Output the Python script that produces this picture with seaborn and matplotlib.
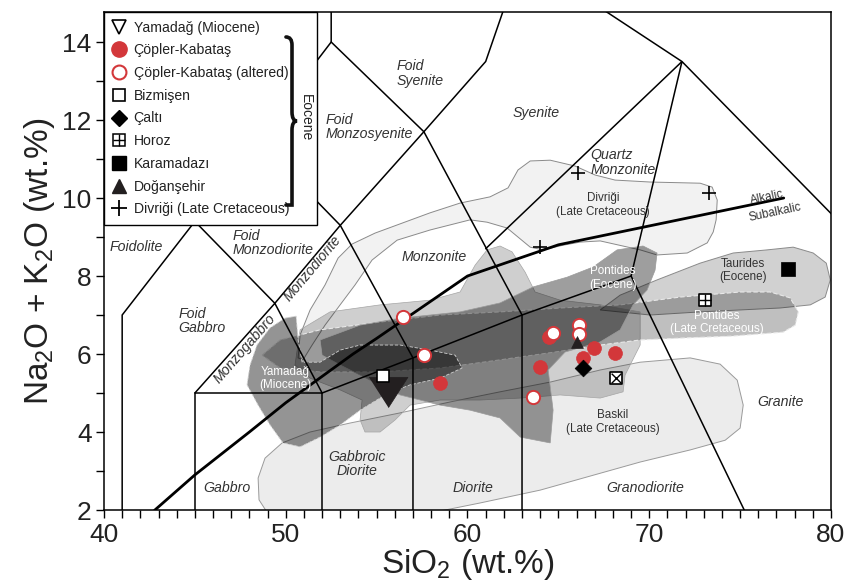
import matplotlib
matplotlib.use('Agg')
import matplotlib.pyplot as plt
import seaborn as sns
from matplotlib.patches import Polygon, Rectangle, PathPatch
from matplotlib.lines import Line2D
from matplotlib.legend_handler import HandlerTuple
from matplotlib.path import Path
from matplotlib.ticker import MultipleLocator

sns.set_theme(style='ticks')
plt.rcParams['font.family'] = ['Liberation Sans', 'DejaVu Sans']
plt.rcParams['mathtext.default'] = 'regular'
NARROW = ['Liberation Sans Narrow', 'Liberation Sans', 'DejaVu Sans']

# ---------------- TAS (Middlemost 1994, plutonic) boundaries ----------------
tas_lines = [
    [(41, 0), (41, 7), (45, 9.4), (48.4, 11.5), (52.5, 14), (52.5, 16)],
    [(45, 0), (45, 5), (52, 5), (52, 0)],
    [(45, 5), (49.4, 7.3), (52, 5)],
    [(45, 9.4), (49.4, 7.3), (53, 9.3), (57.6, 11.7), (61, 13.5), (63, 16.2)],
    [(48.4, 11.5), (53, 9.3), (57, 5.9), (57, 0)],
    [(52, 5), (57, 5.9), (63, 7), (69, 8), (77.3, 0)],
    [(52.5, 14), (57.6, 11.7), (63, 7), (63, 0)],
    [(61, 8.7), (71.8, 13.5), (63, 16.2)],
    [(69, 8), (71.8, 13.5), (85.9, 6.8)],
]
# Irvine & Baragar alkalic / subalkalic divide
ib_x = [39.2, 40, 42.8, 45, 48, 50, 53.7, 55, 60, 65, 77.4]
ib_y = [0, 0.4, 2, 2.9, 4, 4.75, 6, 6.4, 8, 8.8, 10]

# field name labels (text, x, y, ha, rotation)
field_labels = [
    ('Foid\nSyenite', 56.1, 13.2, 'left', 0),
    ('Foid\nMonzosyenite', 52.2, 11.82, 'left', 0),
    ('Syenite', 63.8, 12.18, 'center', 0),
    ('Quartz\nMonzonite', 66.75, 10.91, 'left', 0),
    ('Foid\nMonzodiorite', 47.05, 8.85, 'left', 0),
    ('Foidolite', 41.76, 8.74, 'center', 0),
    ('Foid\nGabbro', 44.1, 6.85, 'left', 0),
    ('Monzogabbro', 47.76, 6.13, 'center', 49),
    ('Monzodiorite', 51.45, 8.2, 'center', 50),
    ('Monzonite', 58.19, 8.49, 'center', 0),
    ('Gabbro', 46.75, 2.56, 'center', 0),
    ('Gabbroic\nDiorite', 53.9, 3.18, 'center', 0),
    ('Diorite', 60.3, 2.56, 'center', 0),
    ('Granodiorite', 69.78, 2.56, 'center', 0),
    ('Granite', 77.2, 4.77, 'center', 0),
]

# ---------------- comparison fields (outlines) ----------------
baskil = [(49.25, 1.74), (48.53, 2.26), (48.48, 2.82), (48.86, 3.33), (49.80, 3.72),
          (51.34, 4.0), (53.54, 4.23), (56.29, 4.49), (59.04, 4.77), (61.79, 5.03),
          (64.55, 5.28), (67.30, 5.59), (69.50, 5.79), (72.25, 5.90), (73.90, 5.74),
          (74.84, 5.33), (75.17, 4.69), (75.0, 4.10), (74.18, 3.79), (72.25, 3.54),
          (69.50, 3.23), (66.75, 2.87), (64.0, 2.51), (60.69, 2.18), (57.39, 1.87),
          (54.09, 1.62), (50.79, 1.54)]
divrigi = [(50.68, 5.90), (50.79, 6.49), (51.34, 7.13), (52.16, 7.77), (52.88, 8.46),
           (53.65, 8.82), (54.91, 9.10), (57.94, 9.62), (59.59, 9.87), (61.24, 10.03),
           (62.23, 10.26), (62.78, 10.72), (63.45, 10.95), (64.55, 10.97), (65.92, 10.82),
           (67.02, 10.59), (68.12, 10.46), (70.05, 10.41), (72.80, 10.38), (73.46, 10.28),
           (73.74, 9.95), (73.68, 9.44), (73.52, 9.13), (73.19, 8.85), (72.09, 8.59),
           (70.43, 8.54), (69.50, 8.67), (67.30, 8.90), (66.20, 8.87), (65.26, 8.79),
           (64.16, 8.67), (63.45, 8.74), (62.18, 9.23), (61.08, 9.38), (60.14, 9.44),
           (57.94, 9.18), (56.13, 8.92), (54.75, 8.41), (53.81, 7.77), (52.99, 7.26),
           (52.16, 6.74), (51.45, 6.23), (50.95, 5.85)]
taurides = [(67.30, 7.13), (68.40, 7.51), (70.43, 7.90), (72.80, 8.33), (74.62, 8.59),
            (76.49, 8.67), (77.92, 8.74), (79.02, 8.59), (79.74, 8.33), (79.96, 7.90),
            (79.68, 7.46), (78.86, 7.26), (77.20, 7.18), (75.0, 7.13), (72.80, 7.08),
            (70.05, 7.0)]
light_field = [(50.79, 6.62), (52.44, 7.08), (55.19, 7.26), (57.94, 7.38), (59.59, 7.59),
               (60.42, 8.28), (61.08, 8.67), (61.79, 8.77), (62.45, 8.62), (63.17, 8.10),
               (63.72, 7.59), (65.10, 7.38), (67.30, 7.26), (69.50, 7.08), (69.50, 6.23),
               (68.67, 5.46), (68.56, 5.03), (67.30, 4.87), (65.10, 4.95), (62.90, 4.87),
               (60.69, 4.82), (58.49, 4.82), (56.84, 4.69), (56.02, 4.31), (55.19, 4.0),
               (54.36, 4.0), (54.09, 4.31), (54.20, 4.82), (52.99, 5.08), (51.34, 5.38),
               (50.51, 5.72)]
pontides_lc = [(48.70, 5.97), (49.69, 6.36), (51.89, 6.62), (55.19, 6.82), (58.49, 7.0),
               (61.79, 7.08), (65.10, 7.18), (68.40, 7.26), (71.70, 7.46), (75.0, 7.59),
               (76.65, 7.59), (77.75, 7.44), (78.20, 7.08), (78.03, 6.74), (77.37, 6.56),
               (74.62, 6.46), (71.87, 6.41), (69.50, 6.36), (67.30, 6.23), (64.80, 6.05),
               (61.79, 5.85), (58.49, 5.64), (55.19, 5.54), (51.89, 5.54), (49.69, 5.64)]
pontides_eo = [(51.89, 6.36), (54.09, 6.74), (56.29, 6.92), (59.59, 7.08), (61.79, 7.31),
               (63.61, 7.72), (65.48, 7.97), (66.91, 8.23), (68.23, 8.67), (69.66, 8.77),
               (70.43, 8.59), (70.32, 8.15), (69.88, 7.64), (69.11, 7.26), (68.40, 6.62),
               (67.30, 6.31), (65.37, 6.05), (64.44, 5.59), (64.71, 4.56), (64.55, 3.72),
               (62.90, 3.87), (61.79, 4.36), (60.14, 4.56), (58.49, 4.69), (56.29, 4.95),
               (54.64, 5.33), (52.99, 5.72), (52.0, 5.97)]
yamadag_field = [(47.87, 5.21), (48.04, 5.72), (48.42, 6.23), (49.14, 6.67), (49.96, 6.92),
                 (50.57, 6.97), (50.68, 6.36), (50.90, 5.79), (51.89, 5.79), (52.99, 6.10),
                 (54.09, 6.23), (56.29, 6.23), (57.94, 6.10), (59.32, 5.97), (59.70, 5.64),
                 (58.49, 5.38), (56.84, 5.21), (55.47, 4.95), (54.09, 4.56), (52.99, 4.18),
                 (51.89, 3.87), (50.79, 3.62), (49.85, 3.72), (49.14, 4.18), (48.48, 4.69)]

region_labels = [
    ('Yamadağ\n(Miocene)', 49.96, 5.38, 'white'),
    ('Divriği\n(Late Cretaceous)', 67.46, 9.82, '#333333'),
    ('Pontides\n(Eocene)', 68.0, 7.95, 'white'),
    ('Taurides\n(Eocene)', 75.17, 8.14, '#333333'),
    ('Pontides\n(Late Cretaceous)', 73.74, 6.8, 'white'),
    ('Baskil\n(Late Cretaceous)', 68.0, 4.26, '#333333'),
]

# ---------------- samples ----------------
yamadag_x, yamadag_y = [55.6], [5.02]
copler_x = [58.49, 64.0, 64.5, 66.98, 68.12, 66.35]
copler_y = [5.26, 5.66, 6.43, 6.15, 6.02, 5.89]
copler_alt_x = [56.44, 57.61, 63.63, 64.73, 66.16, 66.16]
copler_alt_y = [6.96, 5.97, 4.89, 6.53, 6.74, 6.51]
bizmisen_x, bizmisen_y = [55.33], [5.43]
calti_x, calti_y = [66.34], [5.65]
horoz_x, horoz_y = [73.08], [7.38]
horoz2_x, horoz2_y = [68.18], [5.39]
karamadazi_x, karamadazi_y = [77.66], [8.17]
dogansehir_x, dogansehir_y = [66.05], [6.32]
divrigi_x = [66.1, 73.26, 64.0]
divrigi_y = [10.63, 10.12, 8.75]

RED = '#d3373a'
DARK = '#231f20'
FLAT_TRI = [(-1, 0.78), (1, 0.78), (0, -0.78)]

fig = plt.figure(figsize=(8.44, 5.84), dpi=100)
ax = fig.add_axes([104 / 844, 1 - 510 / 584, 727 / 844, 498 / 584])
ax.set_xlim(40, 80)
ax.set_ylim(2, 14.77)
ax.set_facecolor('white')

# fields
field_styles = [
    (baskil, 0.075, '#9a9a9a', '-', 0.7, 1.0),
    (divrigi, 0.05, '#8a8a8a', '-', 0.7, 1.1),
    (taurides, 0.18, '#8a8a8a', '-', 0.7, 1.2),
    (light_field, 0.19, '#a5a5a5', '-', 0.5, 1.3),
    (pontides_lc, 0.25, '#e8e8e8', (0, (4, 2)), 0.8, 1.4),
    (pontides_eo, 0.38, '#9a9a9a', '-', 0.5, 1.5),
    (yamadag_field, 0.42, '#d0d0d0', (0, (4, 2)), 0.6, 1.6),
]
for pts, a, ec, ls, lw, z in field_styles:
    ax.add_patch(Polygon(pts, closed=True, facecolor=(0, 0, 0, a), edgecolor=ec,
                         linestyle=ls, linewidth=lw, zorder=z))

for seg in tas_lines:
    xs, ys = zip(*seg)
    ax.plot(xs, ys, color='black', lw=1.1, zorder=3, solid_joinstyle='miter')
ax.plot(ib_x, ib_y, color='black', lw=2.0, zorder=3.5)

for txt, x, y, ha, rot in field_labels:
    ax.text(x, y, txt, ha=ha, va='center', rotation=rot, rotation_mode='anchor',
            fontsize=10.2, style='italic', color='#333333', zorder=4, linespacing=1.05)
ax.text(76.5, 10.0, 'Alkalic', ha='center', va='center', rotation=12, fontsize=8.5,
        color='#333333', zorder=4, rotation_mode='anchor')
ax.text(76.9, 9.62, 'Subalkalic', ha='center', va='center', rotation=12, fontsize=8.5,
        color='#333333', zorder=4, rotation_mode='anchor')
for txt, x, y, c in region_labels:
    ax.text(x, y, txt, ha='center', va='center', fontsize=8.4, color=c, zorder=4,
            linespacing=1.15)

# samples
def pts(x, y, z, **kw):
    sns.scatterplot(x=x, y=y, ax=ax, legend=False, zorder=z, **kw)

pts(yamadag_x, yamadag_y, 6, marker=FLAT_TRI, s=28 ** 2, color=DARK, edgecolor=DARK, linewidth=0.5)
pts(bizmisen_x, bizmisen_y, 7, marker='s', s=8.5 ** 2, color='white', edgecolor='black', linewidth=1.2)
pts(copler_x, copler_y, 7, marker='o', s=10 ** 2, color=RED, edgecolor=RED, linewidth=0.5)
pts(copler_alt_x, copler_alt_y, 7.5, marker='o', s=9.5 ** 2, color='white', edgecolor=RED, linewidth=1.4)
pts(calti_x, calti_y, 8, marker='D', s=8.5 ** 2, color='black', edgecolor='black', linewidth=0.5)
pts(dogansehir_x, dogansehir_y, 8, marker='^', s=8.5 ** 2, color=DARK, edgecolor=DARK, linewidth=0.5)
pts(horoz_x + horoz2_x, horoz_y + horoz2_y, 8, marker='s', s=8.5 ** 2, color='white', edgecolor='black', linewidth=1.2)
pts(horoz_x, horoz_y, 8.5, marker='+', s=8.5 ** 2, color='black', linewidth=1.0)
pts(horoz2_x, horoz2_y, 8.5, marker='x', s=7 ** 2, color='black', linewidth=1.0)
pts(karamadazi_x, karamadazi_y, 8, marker='s', s=10 ** 2, color='black', edgecolor='black', linewidth=0.5)
pts(divrigi_x, divrigi_y, 8, marker='+', s=10 ** 2, color='black', linewidth=1.2)

# axes styling
ax.xaxis.set_major_locator(MultipleLocator(10))
ax.xaxis.set_minor_locator(MultipleLocator(1))
ax.yaxis.set_major_locator(MultipleLocator(2))
ax.yaxis.set_minor_locator(MultipleLocator(1))
ax.tick_params(which='both', direction='out', length=6, width=1, color='black',
               top=False, right=False)
ax.tick_params(which='major', labelsize=19, labelcolor='#222222', pad=3,
               labelfontfamily=NARROW)
for sp in ax.spines.values():
    sp.set_color('black')
    sp.set_linewidth(1.1)
ax.set_xlabel('SiO$_2$ (wt.%)', fontsize=24, family=NARROW, color='#222222', labelpad=0)
ax.set_ylabel('Na$_2$O + K$_2$O (wt.%)', fontsize=24, family=NARROW, color='#222222', labelpad=4)
ax.grid(False)

# legend box
ax.add_patch(Rectangle((0, 0.572), 0.293, 0.428, transform=ax.transAxes, facecolor='white',
                       edgecolor='black', linewidth=1.0, zorder=20, clip_on=False))
h_yam = Line2D([], [], marker='v', ls='none', ms=10.5, mfc='white', mec='black', mew=1.2)
h_cop = Line2D([], [], marker='o', ls='none', ms=11, mfc=RED, mec=RED)
h_alt = Line2D([], [], marker='o', ls='none', ms=10, mfc='white', mec=RED, mew=1.5)
h_biz = Line2D([], [], marker='s', ls='none', ms=8.5, mfc='white', mec='black', mew=1.2)
h_cal = Line2D([], [], marker='D', ls='none', ms=8, mfc='black', mec='black')
h_hor1 = Line2D([], [], marker='s', ls='none', ms=8.5, mfc='white', mec='black', mew=1.1)
h_hor2 = Line2D([], [], marker='+', ls='none', ms=8.5, mec='black', mew=1.0)
h_kar = Line2D([], [], marker='s', ls='none', ms=9.5, mfc='black', mec='black')
h_dog = Line2D([], [], marker='^', ls='none', ms=10.5, mfc=DARK, mec=DARK)
h_div = Line2D([], [], marker='+', ls='none', ms=11, mec='black', mew=1.3)
handles = [h_yam, h_cop, h_alt, h_biz, h_cal, (h_hor1, h_hor2), h_kar, h_dog, h_div]
labels = ['Yamadağ (Miocene)', 'Çöpler-Kabataş', 'Çöpler-Kabataş (altered)', 'Bizmişen',
          'Çaltı', 'Horoz', 'Karamadazı', 'Doğanşehir', 'Divriği (Late Cretaceous)']
leg = ax.legend(handles, labels, loc='upper left', bbox_to_anchor=(0.0, 1.0),
                borderaxespad=0, frameon=False, fontsize=10.1, labelspacing=0.62,
                handlelength=0.95, handletextpad=0.55, borderpad=0.62,
                handler_map={tuple: HandlerTuple(ndivide=1, pad=0)})
leg.set_zorder(21)
for t in leg.get_texts():
    t.set_color('#222222')

# brace + "Eocene"
bx = [0.2503, 0.2586, 0.2586, 0.2586, 0.2586, 0.2655, 0.2586, 0.2586, 0.2586, 0.2586, 0.2586, 0.2503]
by = [0.9498, 0.9498, 0.9337, 0.7992, 0.7811, 0.7811, 0.7811, 0.7631, 0.6285, 0.6124, 0.6124, 0.6124]
codes = [Path.MOVETO, Path.CURVE3, Path.CURVE3, Path.LINETO, Path.CURVE3, Path.CURVE3,
         Path.CURVE3, Path.CURVE3, Path.LINETO, Path.CURVE3, Path.CURVE3, Path.LINETO]
brace = Path(list(zip(bx, by)), codes)
ax.add_patch(PathPatch(brace, transform=ax.transAxes, fill=False, lw=2.6, color='#111111',
                       zorder=22, clip_on=False, capstyle='round'))
ax.text(0.277, 0.787, 'Eocene', transform=ax.transAxes, rotation=-90, ha='center',
        va='center', fontsize=10, color='#222222', zorder=22)

fig.savefig('out.png', dpi=100)
